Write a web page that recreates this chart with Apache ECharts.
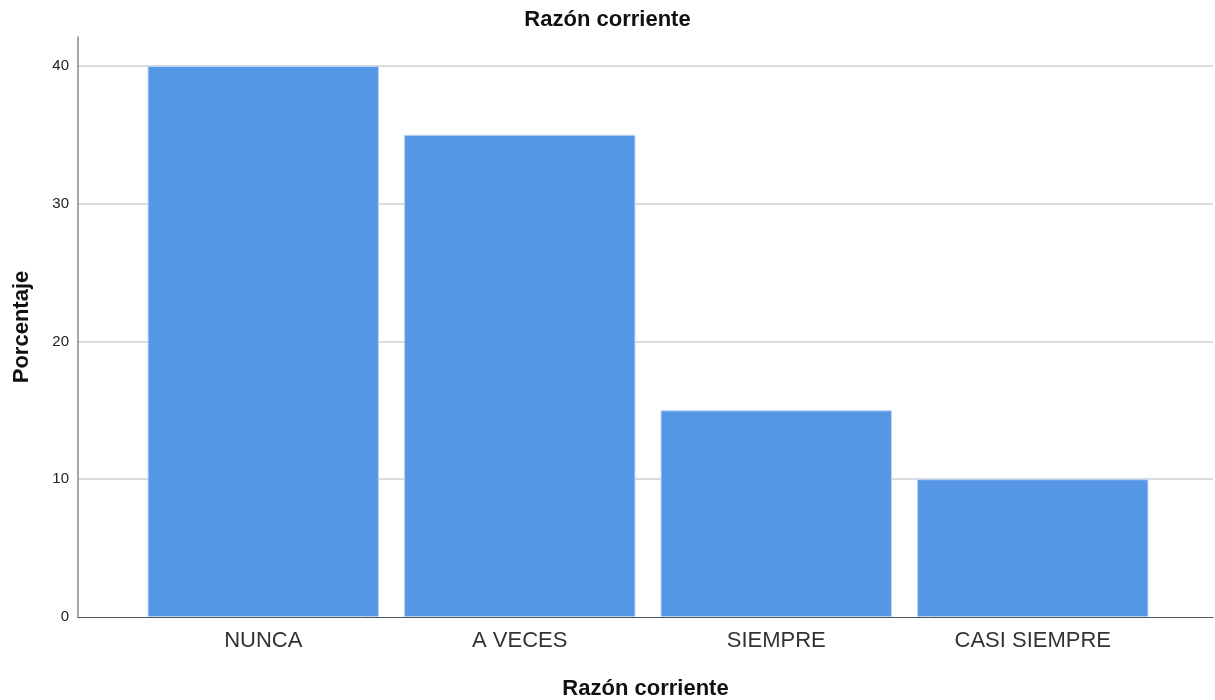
<!DOCTYPE html>
<html>
<head>
<meta charset="utf-8">
<style>
  html, body { margin: 0; padding: 0; background: #fff; }
  #chart { width: 1215px; height: 700px; }
</style>
<script src="https://cdn.jsdelivr.net/npm/echarts@6/dist/echarts.min.js"></script>
</head>
<body>
<div id="chart"></div>
<script>
// Razón corriente — percentage per response category
const categories = ['NUNCA', 'A VECES', 'SIEMPRE', 'CASI SIEMPRE'];
const percentages = [40, 35, 15, 10];
const yTicks = [0, 10, 20, 30, 40];

const FONT = '"Liberation Sans", Arial, sans-serif';
const Y_MAX = 42.1;

const chart = echarts.init(document.getElementById('chart'));

chart.setOption({
  animation: false,
  backgroundColor: '#ffffff',
  textStyle: { fontFamily: FONT },
  title: {
    text: 'Razón corriente',
    left: 'center',
    top: 4,
    textStyle: { fontFamily: FONT, fontSize: 22, fontWeight: 'bold', color: '#111' }
  },
  grid: [
    // frame grid: y axis, gridlines and baseline across the full width
    { left: 78, right: 2, top: 37, bottom: 83, outerBoundsMode: 'none', containLabel: false },
    // bar grid: categories sit inset from both sides of the frame
    { left: 135, right: 54, top: 37, bottom: 83, outerBoundsMode: 'none', containLabel: false }
  ],
  xAxis: [
    {
      gridIndex: 0,
      type: 'value',
      min: 0, max: 1,
      axisLine: { show: true, onZero: false, lineStyle: { color: '#555', width: 1 } },
      axisTick: { show: false },
      axisLabel: { show: false },
      splitLine: { show: false },
      name: 'Razón corriente',
      nameLocation: 'middle',
      nameGap: 61,
      nameTextStyle: { fontFamily: FONT, fontSize: 22, fontWeight: 'bold', color: '#111' }
    },
    {
      gridIndex: 1,
      type: 'category',
      data: categories,
      boundaryGap: true,
      axisLine: { show: false },
      axisTick: { show: false },
      axisLabel: { fontFamily: FONT, fontSize: 22, color: '#333', margin: 13 }
    }
  ],
  yAxis: [
    {
      gridIndex: 0,
      type: 'value',
      min: 0,
      max: Y_MAX,
      interval: 10,
      axisLine: { show: true, lineStyle: { color: '#888', width: 1.5 } },
      axisTick: { show: false },
      axisLabel: {
        fontFamily: FONT, fontSize: 15, color: '#222', margin: 9,
        showMaxLabel: false,
        formatter: v => (yTicks.indexOf(v) >= 0 ? String(v) : '')
      },
      splitLine: { show: true, showMinLine: false, showMaxLine: false, lineStyle: { color: '#cfcfcf', width: 1.5 } },
      name: 'Porcentaje',
      nameLocation: 'middle',
      nameGap: 45,
      nameRotate: 90,
      nameTextStyle: { fontFamily: FONT, fontSize: 22, fontWeight: 'bold', color: '#111' }
    },
    {
      gridIndex: 1,
      type: 'value',
      min: 0,
      max: Y_MAX,
      show: false
    }
  ],
  series: [
    {
      type: 'bar',
      xAxisIndex: 1,
      yAxisIndex: 1,
      data: percentages,
      barCategoryGap: '9.8%',
      itemStyle: { color: '#5596e5', borderColor: '#b9d3f4', borderWidth: 1 },
      z: 3
    }
  ]
});
</script>
</body>
</html>
